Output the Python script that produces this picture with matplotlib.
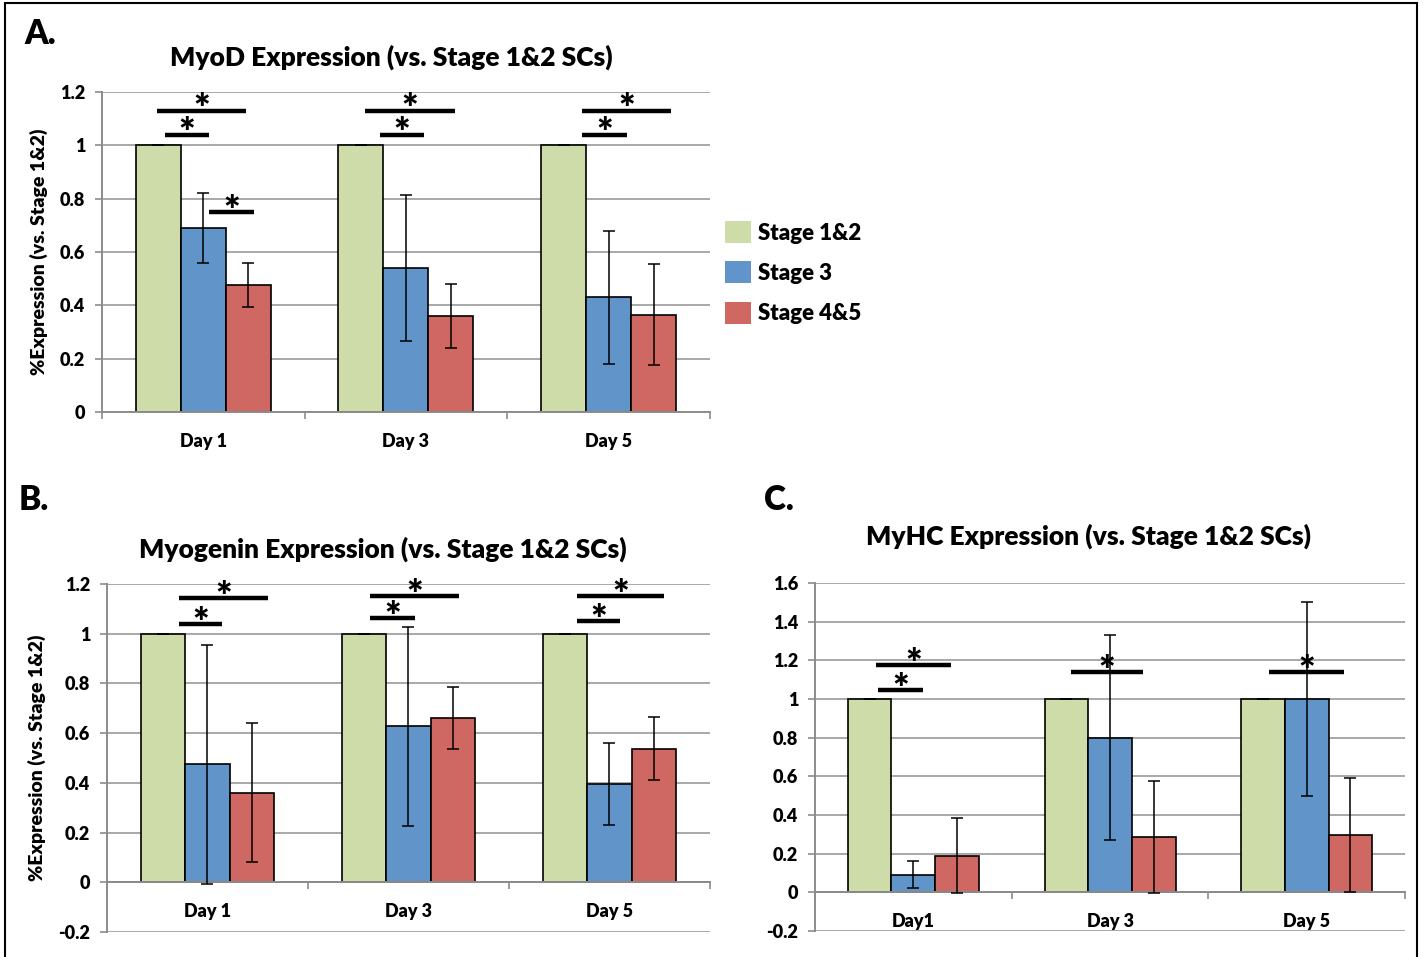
import numpy as np
import matplotlib
matplotlib.use("Agg")
import matplotlib.pyplot as plt
from matplotlib.patches import Rectangle, Patch

plt.rcParams["font.family"] = ["Lato", "DejaVu Sans"]
plt.rcParams["font.weight"] = "heavy"

# ── Data ──────────────────────────────────────────────────────────────────────
STAGES = ["Stage 1&2", "Stage 3", "Stage 4&5"]
COLORS = ["#cddca9", "#6195c9", "#cf6862"]

DAYS_AB = ["Day 1", "Day 3", "Day 5"]
DAYS_C = ["Day1", "Day 3", "Day 5"]

# MyoD
myod_s12 = [1.0, 1.0, 1.0]
myod_s3 = [0.69, 0.54, 0.43]
myod_s45 = [0.475, 0.36, 0.365]
myod_s3_err = [0.13, 0.275, 0.25]
myod_s45_err = [0.083, 0.12, 0.19]

# Myogenin
myog_s12 = [1.0, 1.0, 1.0]
myog_s3 = [0.475, 0.627, 0.395]
myog_s45 = [0.36, 0.662, 0.538]
myog_s3_err = [0.48, 0.40, 0.166]
myog_s45_err = [0.28, 0.124, 0.128]

# MyHC
myhc_s12 = [1.0, 1.0, 1.0]
myhc_s3 = [0.09, 0.80, 1.0]
myhc_s45 = [0.19, 0.285, 0.295]
myhc_s3_err = [0.07, 0.53, 0.50]
myhc_s45_err = [0.195, 0.29, 0.295]

# significance marks: (day index, start, end relative to day centre, height)
myod_sig = [(0, -0.23, 0.21, 1.13), (0, -0.19, 0.03, 1.04), (0, 0.03, 0.25, 0.75),
            (1, -0.20, 0.24, 1.13), (1, -0.13, 0.09, 1.04),
            (2, -0.13, 0.31, 1.13), (2, -0.13, 0.09, 1.04)]
myog_sig = [(0, -0.14, 0.30, 1.144), (0, -0.14, 0.07, 1.04),
            (1, -0.19, 0.25, 1.152), (1, -0.19, 0.03, 1.063),
            (2, -0.16, 0.27, 1.152), (2, -0.16, 0.05, 1.051)]
myhc_sig = [(0, -0.19, 0.19, 1.177), (0, -0.18, 0.05, 1.048),
            (1, -0.20, 0.17, 1.141),
            (2, -0.19, 0.19, 1.141)]

W = 0.222
GRID = "#a8a8a8"
AXCOL = "#8c8c8c"


def draw_panel(ax, groups, errs, days, ylim, yticks, sig, ylabel=None):
    x = np.arange(len(days))
    for i, (vals, err) in enumerate(zip(groups, errs)):
        xs = x + (i - 1) * W
        ax.bar(xs, vals, width=W, color=COLORS[i], edgecolor="black",
               linewidth=1.2, zorder=2)
        ax.errorbar(xs, vals, yerr=err, fmt="none", ecolor="black",
                    elinewidth=1.1, capsize=4, capthick=1.1, zorder=3)

    for d, a, b, h in sig:
        ax.plot([d + a, d + b], [h, h], color="black", lw=3.2,
                solid_capstyle="butt", zorder=4)
        ax.annotate("*", xy=(d + (a + b) / 2, h), xytext=(0, -8.5),
                    textcoords="offset points", ha="center", va="baseline",
                    fontsize=28, zorder=5)

    for s in ["top", "right"]:
        ax.spines[s].set_visible(False)
    ax.spines["bottom"].set_position(("data", 0))
    ax.spines["bottom"].set_color(AXCOL)
    ax.spines["bottom"].set_linewidth(1.4)
    ax.spines["left"].set_color(AXCOL)
    ax.spines["left"].set_linewidth(1.4)

    ax.set_xlim(-0.5, len(days) - 0.5)
    ax.set_ylim(*ylim)
    ax.set_yticks(yticks)
    ax.set_yticklabels([f"{t:g}" for t in yticks])
    ax.yaxis.grid(True, color=GRID, lw=1.4, zorder=0)
    ax.set_axisbelow(True)

    ax.set_xticks(x)
    ax.set_xticklabels(days)
    ax.set_xticks(np.arange(-0.5, len(days), 1), minor=True)
    ax.tick_params(axis="x", which="major", length=0, pad=15, labelsize=13)
    ax.tick_params(axis="x", which="minor", length=5, width=1.2, color=AXCOL,
                   direction="out")
    ax.tick_params(axis="y", length=5, width=1.2, color=AXCOL, pad=7,
                   labelsize=13)
    for lab in ax.get_xticklabels() + ax.get_yticklabels():
        lab.set_fontweight("heavy")

    if ylabel:
        ax.set_ylabel(ylabel, fontsize=14, fontweight="heavy", labelpad=9)


fig = plt.figure(figsize=(14.24, 9.57), dpi=100)

axA = fig.add_axes([0.0716, 0.5695, 0.427, 0.3344])
draw_panel(axA, [myod_s12, myod_s3, myod_s45],
           [[0, 0, 0], myod_s3_err, myod_s45_err], DAYS_AB,
           (0, 1.2), np.round(np.arange(0, 1.21, 0.2), 1), myod_sig,
           "%Expression (vs. Stage 1&2)")

axB = fig.add_axes([0.0751, 0.0261, 0.4235, 0.3637])
draw_panel(axB, [myog_s12, myog_s3, myog_s45],
           [[0, 0, 0], myog_s3_err, myog_s45_err], DAYS_AB,
           (-0.2, 1.2), np.round(np.arange(-0.2, 1.21, 0.2), 1), myog_sig,
           "%Expression (vs. Stage 1&2)")

axC = fig.add_axes([0.5723, 0.0272, 0.4144, 0.3636])
draw_panel(axC, [myhc_s12, myhc_s3, myhc_s45],
           [[0, 0, 0], myhc_s3_err, myhc_s45_err], DAYS_C,
           (-0.2, 1.6), np.round(np.arange(-0.2, 1.61, 0.2), 1), myhc_sig)

# titles and panel letters
fig.text(391 / 1424, 1 - 57 / 957, "MyoD Expression (vs. Stage 1&2 SCs)",
         ha="center", va="center", fontsize=19)
fig.text(383 / 1424, 1 - 549 / 957, "Myogenin Expression (vs. Stage 1&2 SCs)",
         ha="center", va="center", fontsize=19)
fig.text(1089 / 1424, 1 - 536 / 957, "MyHC Expression (vs. Stage 1&2 SCs)",
         ha="center", va="center", fontsize=19)
fig.text(24 / 1424, 1 - 34 / 957, "A.", ha="left", va="center", fontsize=24)
fig.text(19 / 1424, 1 - 500 / 957, "B.", ha="left", va="center", fontsize=24)
fig.text(764 / 1424, 1 - 500 / 957, "C.", ha="left", va="center", fontsize=24)

handles = [Patch(facecolor=c, edgecolor="none") for c in COLORS]
fig.legend(handles, STAGES, loc="upper left",
           bbox_to_anchor=(725 / 1424, 1 - 221 / 957), frameon=False,
           borderpad=0, borderaxespad=0,
           fontsize=16, handlelength=1.15, handleheight=1.15,
           handletextpad=0.35, labelspacing=0.8)

fig.patches.append(Rectangle((5 / 1424, -0.01), 1412 / 1424, 1 - 3 / 957 + 0.01,
                             transform=fig.transFigure, fill=False,
                             edgecolor="black", lw=1.5))

fig.savefig("out.png", dpi=100)
